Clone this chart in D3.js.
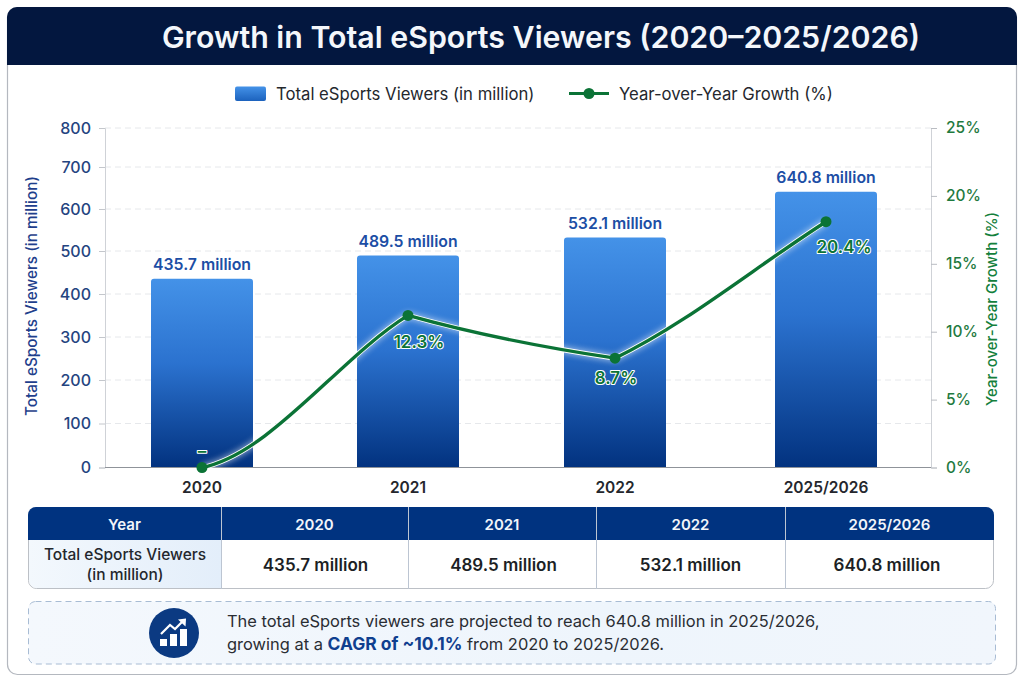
<!DOCTYPE html>
<html>
<head>
<meta charset="utf-8">
<script src="https://cdn.jsdelivr.net/npm/d3@7"></script>
<style>
html, body { margin: 0; padding: 0; background: #fff; }
svg { display: block; font-family: Inter, "Noto Sans", sans-serif; }
</style>
</head>
<body>
<svg id="chart" width="1024" height="683"></svg>
<script>
var years = ["2020", "2021", "2022", "2025/2026"];
var viewers = [435.7, 489.5, 532.1, 640.8];
// where the line really sits in the picture, the printed labels are higher than that
var growthDrawn = [0, 11.2, 8.05, 18.1];
var growthLabels = ["–", "12.3%", "8.7%", "20.4%"];
var leftTicks = [0, 100, 200, 300, 400, 500, 600, 700, 800];
var rightTicks = [0, 5, 10, 15, 20, 25];

var svg = d3.select("#chart");
var defs = svg.append("defs");

var navy = "#03173f", blue = "#003380", tickBlue = "#24447f", green = "#0b7336", ink = "#24272d";

var barGrad = defs.append("linearGradient").attr("id", "barGrad").attr("x1", 0).attr("x2", 0).attr("y1", 0).attr("y2", 1);
barGrad.append("stop").attr("offset", "0%").attr("stop-color", "#4492e8");
barGrad.append("stop").attr("offset", "45%").attr("stop-color", "#2b72cf");
barGrad.append("stop").attr("offset", "100%").attr("stop-color", "#02327f");

var legGrad = defs.append("linearGradient").attr("id", "legGrad").attr("x1", 0).attr("x2", 0).attr("y1", 0).attr("y2", 1);
legGrad.append("stop").attr("offset", "0%").attr("stop-color", "#4492e8");
legGrad.append("stop").attr("offset", "100%").attr("stop-color", "#1c62bd");

var rowGrad = defs.append("linearGradient").attr("id", "rowGrad").attr("x1", 0).attr("x2", 1).attr("y1", 0).attr("y2", 0);
rowGrad.append("stop").attr("offset", "0%").attr("stop-color", "#f3f8fd");
rowGrad.append("stop").attr("offset", "100%").attr("stop-color", "#e3eefa");

var noteGrad = defs.append("linearGradient").attr("id", "noteGrad").attr("x1", 0).attr("x2", 1).attr("y1", 0).attr("y2", 0);
noteGrad.append("stop").attr("offset", "0%").attr("stop-color", "#f4f8fd");
noteGrad.append("stop").attr("offset", "60%").attr("stop-color", "#eef5fc");
noteGrad.append("stop").attr("offset", "100%").attr("stop-color", "#f1f6fc");

var blur = defs.append("filter").attr("id", "glow").attr("x", "-20%").attr("y", "-20%").attr("width", "140%").attr("height", "140%");
blur.append("feGaussianBlur").attr("stdDeviation", 3);

// card and title band
svg.append("rect").attr("x", 7.5).attr("y", 7.5).attr("width", 1009).attr("height", 667).attr("rx", 10)
  .attr("fill", "#fff").attr("stroke", "#b4b8bf").attr("stroke-width", 1.2);
svg.append("path").attr("fill", navy)
  .attr("d", "M7,65V17a10,10 0 0 1 10,-10H1007a10,10 0 0 1 10,10V65Z");
svg.append("text").attr("x", 541).attr("y", 47.5).attr("text-anchor", "middle")
  .attr("fill", "#f4f7fb").attr("font-size", 30.3).attr("font-weight", 600)
  .text("Growth in Total eSports Viewers (2020–2025/2026)");

// scales, the picture's ticks are not evenly spaced so they are piecewise
var x = d3.scaleLinear().domain([0, 1, 2, 3]).range([202, 408, 615, 826]);
var y = d3.scaleLinear().domain(leftTicks).range([467.5, 423.5, 380, 337, 294, 251, 209, 167, 128]);
var yR = d3.scaleLinear().domain([0, 25]).range([467.5, 128]);
var barW = 102;

// grid
svg.append("g").selectAll("line").data(leftTicks.slice(1)).join("line")
  .attr("x1", 105).attr("x2", 931)
  .attr("y1", function(d) { return y(d); }).attr("y2", function(d) { return y(d); })
  .attr("stroke", "#e6e8eb").attr("stroke-dasharray", "6 4");

// axes
var axisL = svg.append("g").attr("transform", "translate(105,0)")
  .call(d3.axisLeft(y).tickValues(leftTicks).tickSize(6).tickPadding(8));
axisL.selectAll("path").attr("stroke", "#cfd2d7");
axisL.selectAll("line").attr("stroke", "#c4c7cc");
axisL.selectAll("text").attr("fill", tickBlue).attr("font-size", 16).attr("font-weight", 500).attr("font-family", "Inter");

var axisR = svg.append("g").attr("transform", "translate(931,0)")
  .call(d3.axisRight(yR).tickValues(rightTicks).tickSize(6).tickPadding(9).tickFormat(function(d) { return d + "%"; }));
axisR.selectAll("path").attr("stroke", "#cfd2d7");
axisR.selectAll("line").attr("stroke", "#b9bcc2");
axisR.selectAll("text").attr("fill", "#1f7a3f").attr("font-size", 15.5).attr("font-weight", 500).attr("font-family", "Inter");

svg.append("text").attr("transform", "translate(37,296) rotate(-90)").attr("text-anchor", "middle")
  .attr("fill", "#1f3f8c").attr("font-size", 15.3).attr("font-weight", 500).text("Total eSports Viewers (in million)");
svg.append("text").attr("transform", "translate(997,309) rotate(-90)").attr("text-anchor", "middle")
  .attr("fill", "#14803c").attr("font-size", 15).attr("font-weight", 500).text("Year-over-Year Growth (%)");

// bars
svg.append("g").selectAll("path").data(viewers).join("path")
  .attr("fill", "url(#barGrad)")
  .attr("d", function(d, i) {
    var l = x(i) - barW / 2, t = y(d), b = y(0), p = d3.path();
    p.moveTo(l, b);
    p.lineTo(l, t + 3);
    p.arcTo(l, t, l + 3, t, 3);
    p.lineTo(l + barW - 3, t);
    p.arcTo(l + barW, t, l + barW, t + 3, 3);
    p.lineTo(l + barW, b);
    p.closePath();
    return p.toString();
  });

svg.append("g").selectAll("text").data(viewers).join("text")
  .attr("x", function(d, i) { return x(i); })
  .attr("y", function(d) { return y(d) - 9; })
  .attr("text-anchor", "middle").attr("fill", "#1c4ea5").attr("font-size", 15.8).attr("font-weight", 600)
  .text(function(d) { return d + " million"; });

svg.append("line").attr("x1", 105).attr("x2", 931).attr("y1", y(0)).attr("y2", y(0))
  .attr("stroke", "#8f9399").attr("stroke-width", 1.2);

svg.append("g").selectAll("text").data(years).join("text")
  .attr("x", function(d, i) { return x(i); }).attr("y", 492.5)
  .attr("text-anchor", "middle").attr("fill", ink).attr("font-size", 15.5).attr("font-weight", 600)
  .text(function(d) { return d; });

// growth line, one cubic per stretch because it has corners at 2021 and 2022
var slopes = [[0.2, 0.62], [0.28, 0.15], [0.48, 0.64]];
var p = d3.path();
p.moveTo(x(0), yR(growthDrawn[0]));
slopes.forEach(function(s, i) {
  var x0 = x(i), x1 = x(i + 1), y0 = yR(growthDrawn[i]), y1 = yR(growthDrawn[i + 1]);
  var dx = (x1 - x0) / 3, dir = y1 < y0 ? -1 : 1;
  p.bezierCurveTo(x0 + dx, y0 + dir * s[0] * dx, x1 - dx, y1 - dir * s[1] * dx, x1, y1);
});
var lineD = p.toString();

defs.append("clipPath").attr("id", "barClip").selectAll("rect").data(viewers).join("rect")
  .attr("x", function(d, i) { return x(i) - barW / 2; })
  .attr("y", function(d) { return y(d); })
  .attr("width", barW)
  .attr("height", function(d) { return y(0) - y(d); });

svg.append("g").attr("clip-path", "url(#barClip)").append("path").attr("d", lineD)
  .attr("fill", "none").attr("stroke", "#fff").attr("stroke-width", 6).attr("opacity", 0.6).attr("filter", "url(#glow)");
svg.append("path").attr("d", lineD).attr("fill", "none").attr("stroke", "#fff").attr("stroke-width", 5);
svg.append("path").attr("d", lineD).attr("fill", "none").attr("stroke", green).attr("stroke-width", 3.4);

svg.append("g").selectAll("circle").data(growthDrawn).join("circle")
  .attr("cx", function(d, i) { return x(i); })
  .attr("cy", function(d) { return yR(d); })
  .attr("r", 5.5).attr("fill", green);

// labels sit under the points except the dash, which is above
var labelDx = [0, 11, 1, 18], labelDy = [-11, 33, 26, 31];
svg.append("g").selectAll("text").data(growthLabels).join("text")
  .attr("x", function(d, i) { return x(i) + labelDx[i]; })
  .attr("y", function(d, i) { return yR(growthDrawn[i]) + labelDy[i]; })
  .attr("text-anchor", "middle").attr("fill", "#0b7336").attr("font-size", 17).attr("font-weight", 600)
  .attr("stroke", "#fff").attr("stroke-width", 2).attr("paint-order", "stroke").attr("stroke-linejoin", "round")
  .text(function(d) { return d; });

// legend
var leg = svg.append("g");
leg.append("rect").attr("x", 235).attr("y", 86.5).attr("width", 31).attr("height", 14.5).attr("rx", 2).attr("fill", "url(#legGrad)");
leg.append("text").attr("x", 276).attr("y", 99.5).attr("fill", ink).attr("font-size", 16.7).text("Total eSports Viewers (in million)");
leg.append("line").attr("x1", 569).attr("x2", 609).attr("y1", 93.5).attr("y2", 93.5).attr("stroke", green).attr("stroke-width", 3);
leg.append("circle").attr("cx", 589).attr("cy", 93.5).attr("r", 5.5).attr("fill", green);
leg.append("text").attr("x", 619).attr("y", 99.5).attr("fill", ink).attr("font-size", 16.7).text("Year-over-Year Growth (%)");

// table under the chart
var colX = [28, 221, 408, 596, 785, 994];
var tbl = svg.append("g");
tbl.append("rect").attr("x", 28.5).attr("y", 507.5).attr("width", 965).attr("height", 81).attr("rx", 8)
  .attr("fill", "#fff").attr("stroke", "#bcc0c6");
tbl.append("path").attr("fill", "url(#rowGrad)").attr("d", "M29,540H221V588H37a8,8 0 0 1 -8,-8Z");
tbl.append("path").attr("fill", blue).attr("d", "M28,540V515a8,8 0 0 1 8,-8H986a8,8 0 0 1 8,8V540Z");
tbl.append("g").selectAll("line").data(colX.slice(1, 5)).join("line")
  .attr("x1", function(d) { return d + 0.5; }).attr("x2", function(d) { return d + 0.5; })
  .attr("y1", 507).attr("y2", 589).attr("stroke", "#bcc5d2");

var headers = ["Year"].concat(years);
tbl.append("g").selectAll("text").data(headers).join("text")
  .attr("x", function(d, i) { return (colX[i] + colX[i + 1]) / 2; }).attr("y", 529.5)
  .attr("text-anchor", "middle").attr("fill", "#f2f5fa").attr("font-size", 15).attr("font-weight", 600)
  .text(function(d) { return d; });

tbl.append("text").attr("x", 125).attr("y", 560).attr("text-anchor", "middle").attr("fill", ink)
  .attr("font-size", 15.5).attr("font-weight", 500).text("Total eSports Viewers");
tbl.append("text").attr("x", 125).attr("y", 580).attr("text-anchor", "middle").attr("fill", ink)
  .attr("font-size", 15.5).attr("font-weight", 500).text("(in million)");

var valueDx = [1, 1.5, 0, -2.5];
tbl.append("g").selectAll("text").data(viewers).join("text")
  .attr("x", function(d, i) { return (colX[i + 1] + colX[i + 2]) / 2 + valueDx[i]; }).attr("y", 570.5)
  .attr("text-anchor", "middle").attr("fill", "#1c1f25").attr("font-size", 17).attr("font-weight", 600)
  .text(function(d) { return d + " million"; });

// note box
var note = svg.append("g");
note.append("rect").attr("x", 28.5).attr("y", 601.5).attr("width", 967).attr("height", 62.5).attr("rx", 7)
  .attr("fill", "url(#noteGrad)").attr("stroke", "#a8bcd4").attr("stroke-dasharray", "6 4");
note.append("circle").attr("cx", 174).attr("cy", 633).attr("r", 25).attr("fill", "#0b3a82");
var icon = note.append("g").attr("fill", "#fff");
icon.append("rect").attr("x", 160).attr("y", 639).attr("width", 7).attr("height", 7);
icon.append("rect").attr("x", 170).attr("y", 634).attr("width", 7).attr("height", 12);
icon.append("rect").attr("x", 180).attr("y", 629).attr("width", 7).attr("height", 17);
icon.append("path").attr("d", "M161,634L170,625L175,629L183,621").attr("fill", "none").attr("stroke", "#fff").attr("stroke-width", 2.2);
icon.append("path").attr("d", "M178,619.5L186,618.5L185.5,626.5Z");

note.append("text").attr("x", 227).attr("y", 626.5).attr("fill", "#2a2d33").attr("font-size", 16.45)
  .text("The total eSports viewers are projected to reach 640.8 million in 2025/2026,");
var line2 = note.append("text").attr("x", 227).attr("y", 650).attr("fill", "#2a2d33").attr("font-size", 16.45);
line2.append("tspan").text("growing at a ");
line2.append("tspan").attr("fill", "#0f3f8f").attr("font-weight", 700).attr("font-size", 17.4).text("CAGR of ~10.1%");
line2.append("tspan").text(" from 2020 to 2025/2026.");
</script>
</body>
</html>
